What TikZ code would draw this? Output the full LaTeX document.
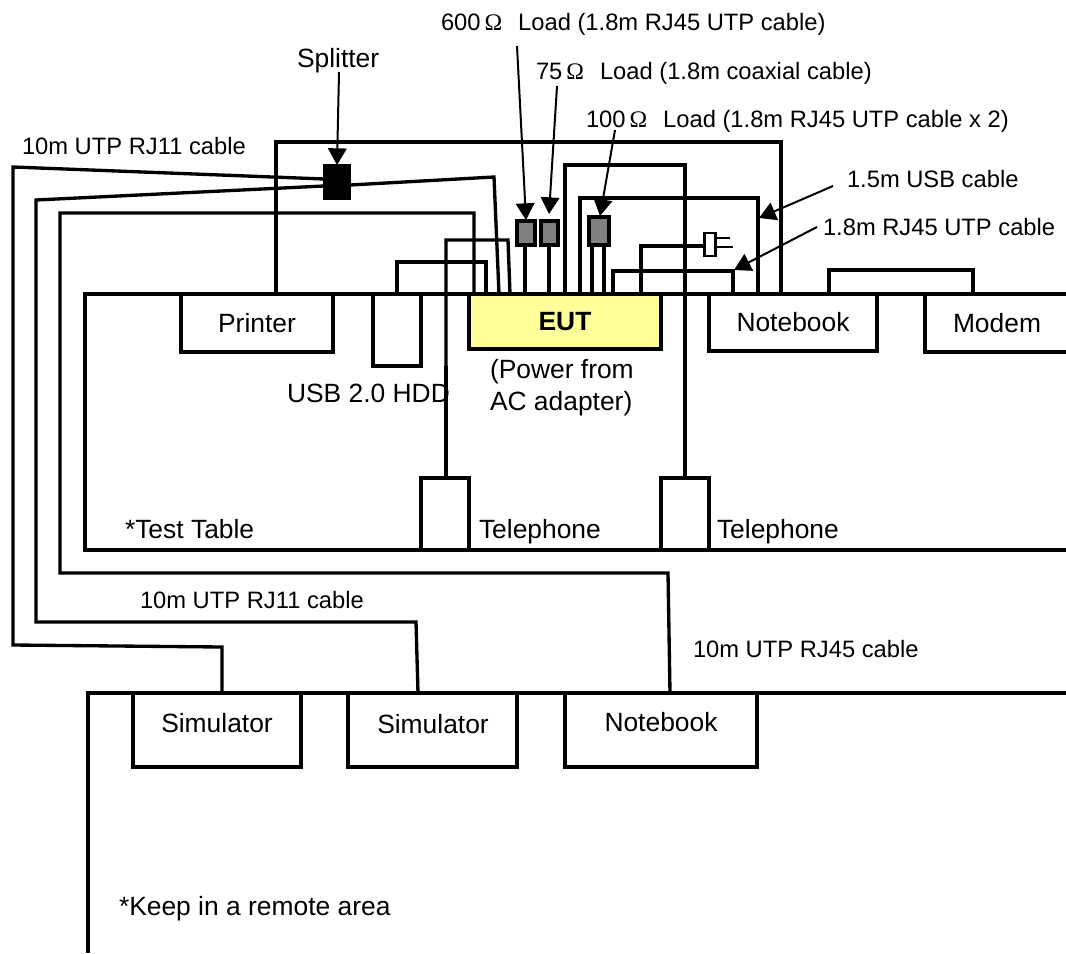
\documentclass[tikz,border=0pt]{standalone}
\usepackage{fontspec}
\setmainfont{Liberation Sans}
\newfontfamily\omegafont{Liberation Serif}
\usetikzlibrary{arrows.meta}
\definecolor{eutyellow}{HTML}{FFFF99}
\definecolor{loadgray}{HTML}{808080}
\newcommand{\bigtxt}{\fontsize{19.8pt}{24pt}\selectfont}
\newcommand{\smalltxt}{\fontsize{17.8pt}{22pt}\selectfont}
\newcommand{\ohm}{\,{\omegafont Ω}\hspace{12pt}}
\tikzset{
  wire/.style={line width=2.5pt,line join=miter},
  pointer/.style={line width=1.5pt,-{Triangle[length=12.5pt,width=14pt]}},
  devbox/.style={draw,line width=2.5pt,inner sep=0pt,outer sep=0pt,font=\bigtxt,fill=white},
  loadbox/.style={draw,line width=2.5pt,fill=loadgray,inner sep=0pt,outer sep=0pt},
  biglabel/.style={anchor=base west,inner sep=0pt,outer sep=0pt,font=\bigtxt},
  boxlabel/.style={anchor=base,inner sep=0pt,outer sep=0pt,font=\bigtxt},
  smalllabel/.style={anchor=base west,inner sep=0pt,outer sep=0pt,font=\smalltxt}
}
\begin{document}
\begin{tikzpicture}[x=0.75pt,y=-0.75pt]
\useasboundingbox (0,0) rectangle (1066,953);
\fill[white] (0,0) rectangle (1066,953);

% free ends and bends
\coordinate (tabTL) at (85,294);
\coordinate (tabTR) at (1070,294);
\coordinate (tabBL) at (85,550);
\coordinate (tabBR) at (1070,550);
\coordinate (remTL) at (88,693);
\coordinate (remTR) at (1070,693);
\coordinate (remBL) at (88,953);

% boxes
\node[devbox,minimum width=152*0.75pt,minimum height=58*0.75pt] (printer) at (257,323) {Printer};
\node[devbox,minimum width=48*0.75pt,minimum height=72*0.75pt] (hdd) at (397,330) {};
\node[devbox,fill=eutyellow,minimum width=192*0.75pt,minimum height=55*0.75pt,font=\bigtxt\bfseries] (eut) at (565,321.5) {EUT};
\node[devbox,minimum width=168*0.75pt,minimum height=57*0.75pt] (nb1) at (793,322.5) {Notebook};
\node[devbox,minimum width=144*0.75pt,minimum height=58*0.75pt] (modem) at (997,323) {Modem};
\node[devbox,minimum width=48*0.75pt,minimum height=72*0.75pt] (tel1) at (445,514) {};
\node[devbox,minimum width=48*0.75pt,minimum height=72*0.75pt] (tel2) at (685,514) {};
\node[devbox,minimum width=168*0.75pt,minimum height=74*0.75pt] (sim1) at (217,730) {};
\node[devbox,minimum width=169*0.75pt,minimum height=74*0.75pt] (sim2) at (432.5,730) {};
\node[devbox,minimum width=192*0.75pt,minimum height=74*0.75pt] (nb2) at (661,730) {};
\node[boxlabel] (sim1t) at (217,732) {Simulator};
\node[boxlabel] (sim2t) at (433,733) {Simulator};
\node[boxlabel] (nb2t) at (661,731) {Notebook};

% tables
\draw[wire] (tabTR) -- (tabTL) -- (tabBL) -- (tabBR);
\draw[wire] (remTR) -- (remTL) -- (remBL);

% splitter and loads
\node[draw,fill=black,line width=1pt,inner sep=0pt,outer sep=0pt,minimum width=26*0.75pt,minimum height=35*0.75pt] (split) at (337,182) {};
\node[loadbox,minimum width=18*0.75pt,minimum height=24*0.75pt] (l600) at (526,233) {};
\node[loadbox,minimum width=17*0.75pt,minimum height=24*0.75pt] (l75) at (549.5,233) {};
\node[loadbox,minimum width=20*0.75pt,minimum height=28*0.75pt] (l100) at (599,231) {};

% plug
\node[draw,line width=2.2pt,inner sep=0pt,outer sep=0pt,fill=white,minimum width=11*0.75pt,minimum height=23*0.75pt] (plug) at (710,244.5) {};
\coordinate (prongA) at (730,238);
\coordinate (prongB) at (733,247);
\draw[line width=2pt] (plug.east |- prongA) -- (prongA);
\draw[line width=2pt] (plug.east |- prongB) -- (prongB);

% wires
\draw[wire] (276,294) -- (276,142) -- (781,142) -- (781,294);
\draw[wire] (split.east |- 0,185) -- (494,177) -- (499,294);
\draw[wire] (split.west |- 0,179) -- (13,167) -- (13,645) -- (222,647) -- (sim1.north -| 222,0);
\draw[wire] (split.west |- 0,186) -- (36,200) -- (36,622) -- (416,622) -- (418,693);
\draw[wire] (474,294) -- (474,213) -- (60,213) -- (60,573) -- (668,573) -- (670,693);
\draw[wire] (397,294) -- (397,262) -- (486,262) -- (486,294);
\draw[wire] (tel1.north -| 446,0) -- (446,240) -- (508,240) -- (510,294);
\draw[wire] (l600.south -| 525,0) -- (525,294);
\draw[wire] (l75.south -| 549,0) -- (549,294);
\draw[wire] (l100.south -| 592,0) -- (592,294);
\draw[wire] (l100.south -| 604,0) -- (604,294);
\draw[wire] (565,294) -- (565,165) -- (685,165) -- (tel2.north -| 685,0);
\draw[wire] (580,294) -- (580,198) -- (758,198) -- (758,294);
\draw[wire] (613,294) -- (613,271) -- (733,271) -- (733,294);
\draw[wire] (641,294) -- (641,246) -- (plug.west |- 0,246);
\draw[wire] (829,294) -- (829,270) -- (973,270) -- (973,294);

% labels
\node[biglabel] (tSplit) at (297,67) {Splitter};
\node[smalllabel] (t600) at (441,31) {600\ohm Load (1.8m RJ45 UTP cable)};
\node[smalllabel] (t75) at (536,79) {75\ohm Load (1.8m coaxial cable)};
\node[smalllabel] (t100) at (586,127) {100\ohm Load (1.8m RJ45 UTP cable x 2)};
\node[smalllabel] (tUsb) at (847,187) {1.5m USB cable};
\node[smalllabel] (tRj) at (823,235) {1.8m RJ45 UTP cable};
\node[smalllabel] (t11a) at (22,154) {10m UTP RJ11 cable};
\node[smalllabel] (t11b) at (140,608) {10m UTP RJ11 cable};
\node[smalllabel] (t45) at (693,657) {10m UTP RJ45 cable};
\node[biglabel] (tHdd) at (287,402) {USB 2.0 HDD};
\node[biglabel] (tPow1) at (490,378) {(Power from};
\node[biglabel] (tPow2) at (490,410) {AC adapter)};
\node[biglabel] (tTest) at (125,538) {*Test Table};
\node[biglabel] (tTel1) at (479,538) {Telephone};
\node[biglabel] (tTel2) at (717,538) {Telephone};
\node[biglabel] (tKeep) at (119,915) {*Keep in a remote area};

% redraw the wire that runs over the HDD label
\draw[wire] (tel1.north -| 446,0) -- (446,366);

% pointers
\coordinate (pSplit) at (339,72);
\coordinate (p600) at (517,46);
\coordinate (p75) at (557,86);
\coordinate (p100) at (615,130);
\coordinate (pUsb) at (833,186);
\coordinate (pRj) at (817,227);
\coordinate (tipSplit) at (337,165);
\coordinate (tip600) at (526,220);
\coordinate (tip75) at (549,214);
\coordinate (tip100) at (600,216);
\coordinate (tipUsb) at (759,218);
\coordinate (tipRj) at (734,270);
\draw[pointer] (pSplit) -- (tipSplit);
\draw[pointer] (p600) -- (tip600);
\draw[pointer] (p75) -- (tip75);
\draw[pointer] (p100) -- (tip100);
\draw[pointer] (pUsb) -- (tipUsb);
\draw[pointer] (pRj) -- (tipRj);
\end{tikzpicture}
\end{document}
